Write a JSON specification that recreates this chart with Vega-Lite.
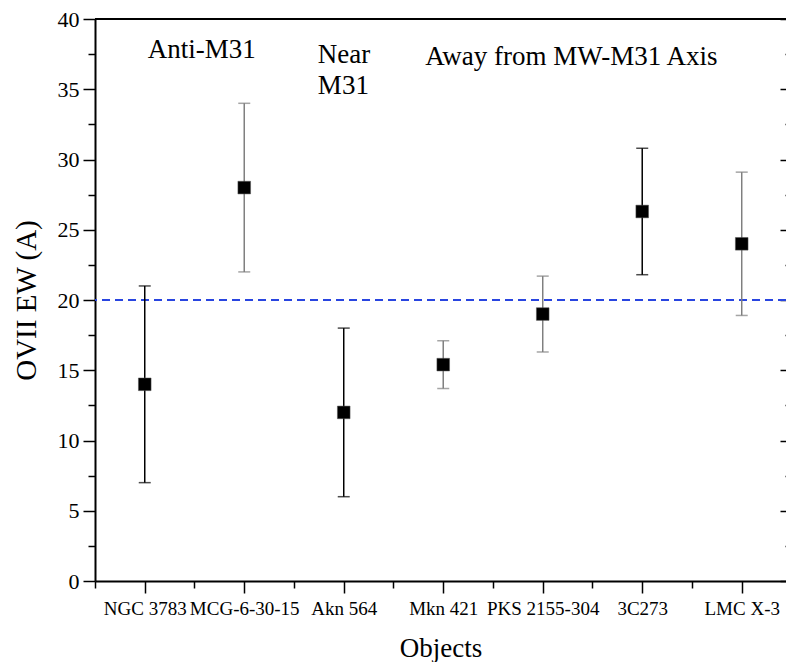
{
  "$schema": "https://vega.github.io/schema/vega-lite/v6.json",
  "autosize": {"type": "none"},
  "width": 691,
  "height": 562,
  "padding": {"left": 95, "top": 19, "right": 0, "bottom": 81},
  "background": "white",
  "config": {"view": {"stroke": null}, "font": "Liberation Serif"},
  "data": {"values": [
    {"obj": "NGC 3783", "i": 1, "ew": 14.0, "lo": 7.0, "hi": 21.0, "set": "A"},
    {"obj": "MCG-6-30-15", "i": 2, "ew": 28.0, "lo": 22.0, "hi": 34.0, "set": "B"},
    {"obj": "Akn 564", "i": 3, "ew": 12.0, "lo": 6.0, "hi": 18.0, "set": "A"},
    {"obj": "Mkn 421", "i": 4, "ew": 15.4, "lo": 13.7, "hi": 17.1, "set": "B"},
    {"obj": "PKS 2155-304", "i": 5, "ew": 19.0, "lo": 16.3, "hi": 21.7, "set": "B"},
    {"obj": "3C273", "i": 6, "ew": 26.3, "lo": 21.8, "hi": 30.8, "set": "A"},
    {"obj": "LMC X-3", "i": 7, "ew": 24.0, "lo": 18.9, "hi": 29.1, "set": "B"}
  ]},
  "resolve": {"axis": {"x": "independent", "y": "independent"}},
  "layer": [
    {
      "mark": {"type": "rule", "color": "#2a45e0", "strokeWidth": 1.5, "strokeDash": [8, 5]},
      "encoding": {
        "y": {"datum": 20, "type": "quantitative", "scale": {"domain": [0, 40], "nice": false},
          "axis": {"orient": "left", "values": [0, 2.5, 5, 7.5, 10, 12.5, 15, 17.5, 20, 22.5, 25, 27.5, 30, 32.5, 35, 37.5, 40],
            "labelExpr": "datum.value % 5 === 0 ? format(datum.value, 'd') : ''",
            "tickSize": {"condition": {"test": "datum.value % 5 === 0", "value": 12}, "value": 7},
            "tickColor": "black", "tickWidth": 1.5, "domainColor": "black", "domainWidth": 2,
            "labelFont": "Liberation Serif", "labelFontSize": 22, "labelColor": "black", "labelPadding": 4,
            "title": "OVII EW (A)", "titleFont": "Liberation Serif", "titleFontSize": 29, "titleFontWeight": "normal",
            "titleColor": "black", "titlePadding": 16, "grid": false, "labelOverlap": false, "labelFlush": false}}
      }
    },
    {
      "mark": {"type": "rule", "color": "black", "strokeWidth": 2},
      "encoding": {"y": {"datum": 40, "type": "quantitative", "axis": null}}
    },
    {
      "mark": {"type": "rule", "strokeWidth": 1.5},
      "encoding": {
        "x": {"field": "i", "type": "quantitative", "scale": {"domain": [0.5, 7.445], "nice": false, "zero": false},
          "axis": {"orient": "bottom", "values": [0.5, 1, 1.5, 2, 2.5, 3, 3.5, 4, 4.5, 5, 5.5, 6, 6.5, 7],
            "labelExpr": "['', 'NGC 3783', 'MCG-6-30-15', 'Akn 564', 'Mkn 421', 'PKS 2155-304', '3C273', 'LMC X-3'][datum.value] || ''",
            "tickSize": {"condition": {"test": "datum.value % 1 === 0", "value": 12}, "value": 7},
            "tickColor": "black", "tickWidth": 1.5, "domainColor": "black", "domainWidth": 2,
            "labelFont": "Liberation Serif", "labelFontSize": 19, "labelColor": "black", "labelPadding": 6,
            "labelOverlap": false, "labelFlush": false, "labelBound": false,
            "title": "Objects", "titleFont": "Liberation Serif", "titleFontSize": 27, "titleFontWeight": "normal",
            "titleColor": "black", "titlePadding": 17, "grid": false}},
        "y": {"field": "lo", "type": "quantitative",
          "axis": {"orient": "right", "values": [0, 2.5, 5, 7.5, 10, 12.5, 15, 17.5, 20, 22.5, 25, 27.5, 30, 32.5, 35, 37.5, 40],
            "labels": false, "domain": false, "title": null, "grid": false,
            "tickSize": {"condition": {"test": "datum.value % 5 === 0", "value": -6}, "value": -1},
            "tickColor": "black", "tickWidth": 1.5}},
        "y2": {"field": "hi"},
        "color": {"field": "set", "type": "nominal", "scale": {"domain": ["A", "B"], "range": ["#000000", "#7f7f7f"]}, "legend": null}
      }
    },
    {
      "mark": {"type": "tick", "orient": "horizontal", "size": 12, "thickness": 1.5},
      "encoding": {
        "x": {"field": "i", "type": "quantitative", "axis": null},
        "y": {"field": "lo", "type": "quantitative", "axis": null},
        "color": {"field": "set", "type": "nominal", "legend": null}
      }
    },
    {
      "mark": {"type": "tick", "orient": "horizontal", "size": 12, "thickness": 1.5},
      "encoding": {
        "x": {"field": "i", "type": "quantitative", "axis": null},
        "y": {"field": "hi", "type": "quantitative", "axis": null},
        "color": {"field": "set", "type": "nominal", "legend": null}
      }
    },
    {
      "mark": {"type": "square", "filled": true, "color": "black", "size": 160, "opacity": 1, "stroke": "#555555", "strokeWidth": 0.5},
      "encoding": {
        "x": {"field": "i", "type": "quantitative", "axis": null},
        "y": {"field": "ew", "type": "quantitative", "axis": null}
      }
    },
    {
      "data": {"values": [
        {"label": "Anti-M31", "px": 1.03, "py": 37.22},
        {"label": "Near\nM31", "px": 2.74, "py": 36.87},
        {"label": "Away from MW-M31 Axis", "px": 3.82, "py": 36.73}
      ]},
      "mark": {"type": "text", "align": "left", "baseline": "alphabetic", "font": "Liberation Serif", "fontSize": 27, "color": "black", "lineBreak": "\n", "lineHeight": 31},
      "encoding": {
        "x": {"field": "px", "type": "quantitative", "axis": null},
        "y": {"field": "py", "type": "quantitative", "axis": null},
        "text": {"field": "label"}
      }
    }
  ]
}
